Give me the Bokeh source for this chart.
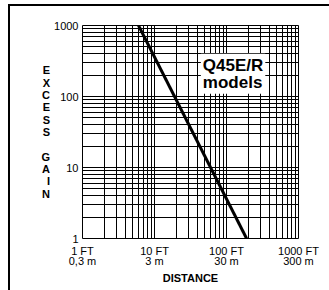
from bokeh.plotting import figure
from bokeh.models import FixedTicker, Label
from bokeh.embed import file_html
from bokeh.resources import INLINE

# data
distance_ft = [6, 190]
excess_gain = [1000, 1]
x_major = [1, 10, 100, 1000]
x_labels = ["1 FT\n0,3 m", "10 FT\n3 m", "100 FT\n30 m", "1000 FT\n300 m"]
y_major = [1, 10, 100, 1000]
y_labels = ["1", "10", "100", "1000"]
minor = [k * 10 ** d for d in range(3) for k in range(2, 10)]
note_text = "Q45E/R\nmodels"
note_x, note_y = 44, 400

FONT = "Liberation Sans"

p = figure(x_axis_type="log", y_axis_type="log",
           x_range=(1, 1000), y_range=(1, 1000),
           frame_width=216, frame_height=213,
           min_border_left=72, min_border_right=31,
           min_border_top=19, min_border_bottom=52,
           output_backend="svg", toolbar_location=None)
p.styles = {"border-left": "2px solid black", "border-top": "2px solid black",
            "margin-left": "8px", "margin-top": "4px"}

p.xaxis.ticker = FixedTicker(ticks=x_major, minor_ticks=minor)
p.yaxis.ticker = FixedTicker(ticks=y_major, minor_ticks=minor)
p.xaxis.major_label_overrides = dict(zip(x_major, x_labels))
p.yaxis.major_label_overrides = dict(zip(y_major, y_labels))

for ax in (p.xaxis, p.yaxis):
    ax.axis_line_color = None
    ax.major_tick_line_color = None
    ax.minor_tick_line_color = None
    ax.major_tick_in = 0
    ax.major_tick_out = 0
    ax.minor_tick_in = 0
    ax.minor_tick_out = 0
    ax.major_label_text_font = FONT
    ax.major_label_text_font_size = "11px"
    ax.major_label_text_color = "black"
    ax.axis_label_text_font = FONT
    ax.axis_label_text_font_size = "11px"
    ax.axis_label_text_font_style = "bold"
    ax.axis_label_text_color = "black"

p.xaxis.major_label_standoff = 6
p.yaxis.major_label_standoff = 4
p.xaxis.major_label_text_line_height = 0.85
p.xaxis.axis_label = "DISTANCE"
p.xaxis.axis_label_standoff = 2

p.yaxis.axis_label = "E\nX\nC\nE\nS\nS\n \nG\nA\nI\nN"
p.yaxis.axis_label_orientation = "horizontal"
p.yaxis.axis_label_text_line_height = 1.03
p.yaxis.axis_label_standoff = 1

for g in (p.xgrid, p.ygrid):
    g.grid_line_color = "black"
    g.grid_line_width = 1
    g.minor_grid_line_color = "black"
    g.minor_grid_line_width = 1

p.outline_line_color = "black"
p.outline_line_width = 1

p.line(distance_ft, excess_gain, line_width=3, color="black")

lab = Label(x=note_x, y=note_y, text=note_text, text_font=FONT,
            text_font_size="17px", text_font_style="bold", text_color="black",
            text_baseline="top", text_align="left", text_line_height=0.9,
            background_fill_color="white", padding=2)
p.add_layout(lab)

open("out.html", "w").write(file_html(p, INLINE))
